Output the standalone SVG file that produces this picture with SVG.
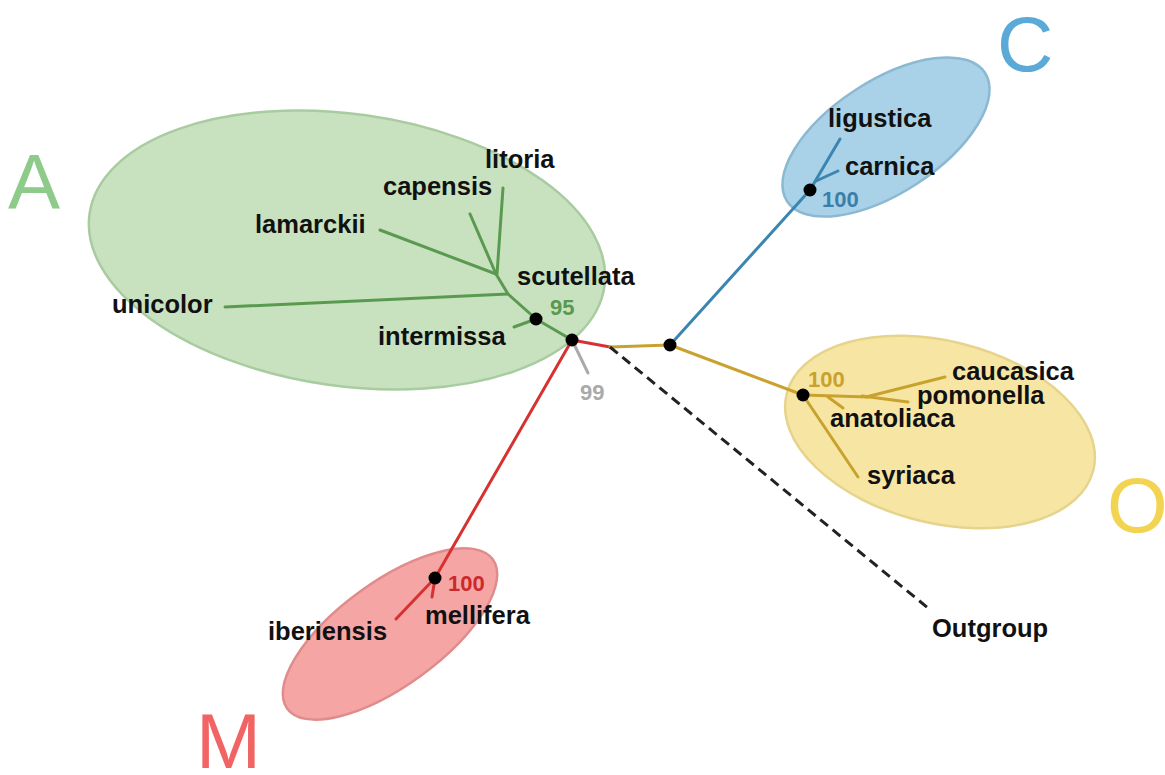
<svg xmlns="http://www.w3.org/2000/svg" width="1165" height="775" viewBox="0 0 1165 775">
<style>
.lbl{font-family:"Liberation Sans",Arial,sans-serif;font-weight:bold;font-size:25.5px;fill:#111}
.big{font-family:"Liberation Sans",Arial,sans-serif;font-size:78px}
.bs{font-family:"Liberation Sans",Arial,sans-serif;font-weight:bold;font-size:22px}
.br{fill:none;stroke-width:3;stroke-linecap:round;stroke-linejoin:round}
.dot{fill:#000}
</style>
<rect width="1165" height="775" fill="#fff"/>
<g id="clades">
<ellipse id="clade-A" cx="347" cy="250" rx="260" ry="136" transform="rotate(8 347 250)" fill="#c8e2c0" stroke="#a8cca0" stroke-width="2.5"/>
<ellipse id="clade-C" cx="886" cy="137" rx="118" ry="56" transform="rotate(-33 886 137)" fill="#a9d1e8" stroke="#8cb9d2" stroke-width="2.5"/>
<ellipse id="clade-O" cx="940" cy="432" rx="158" ry="91" transform="rotate(14 940 432)" fill="#f7e6a3" stroke="#e6d38c" stroke-width="2.5"/>
<ellipse id="clade-M" cx="390" cy="634" rx="127" ry="52" transform="rotate(-36 390 634)" fill="#f6a5a5" stroke="#e08c8c" stroke-width="2.5"/>
</g>
<g id="connectors">
<polyline class="br" stroke="#5a9a50" points="572,340 536,319 508,294 496,274"/>
<line class="br" stroke="#5a9a50" x1="508" y1="294" x2="225" y2="307"/>
<line class="br" stroke="#5a9a50" x1="496" y1="274" x2="380" y2="230"/>
<line class="br" stroke="#5a9a50" x1="496" y1="274" x2="470" y2="214"/>
<line class="br" stroke="#5a9a50" x1="497" y1="274" x2="503" y2="188"/>
<line class="br" stroke="#5a9a50" x1="536" y1="319" x2="514" y2="327"/>
<line class="br" stroke="#aaaaaa" x1="572" y1="340" x2="588" y2="373"/>
<polyline class="br" stroke="#d63232" points="610,347 572,340 435,578 396,619"/>
<line class="br" stroke="#d63232" x1="435" y1="578" x2="432" y2="597"/>
<polyline class="br" stroke="#c9a22e" points="610,347 670,345 803,395 868,397"/>
<line class="br" stroke="#c9a22e" x1="866" y1="397" x2="945" y2="377"/>
<line class="br" stroke="#c9a22e" x1="862" y1="396" x2="908" y2="402"/>
<line class="br" stroke="#c9a22e" x1="828" y1="397" x2="843" y2="408"/>
<line class="br" stroke="#c9a22e" x1="803" y1="395" x2="858" y2="477"/>
<polyline class="br" stroke="#3a86b0" points="670,345 810,190 840,139"/>
<line class="br" stroke="#3a86b0" x1="816" y1="181" x2="838" y2="171"/>
<line stroke="#222" stroke-width="3" stroke-dasharray="10,6" x1="610" y1="347" x2="928" y2="608"/>
</g>
<g id="nodes">
<circle class="dot" cx="572" cy="340" r="6.5"/>
<circle class="dot" cx="536" cy="319" r="6.5"/>
<circle class="dot" cx="670" cy="345" r="6.5"/>
<circle class="dot" cx="810" cy="190" r="6.5"/>
<circle class="dot" cx="803" cy="395" r="6.5"/>
<circle class="dot" cx="435" cy="578" r="6.5"/>
</g>
<g id="labels">
<text class="lbl" x="485" y="168">litoria</text>
<text class="lbl" x="383" y="195">capensis</text>
<text class="lbl" x="255" y="233">lamarckii</text>
<text class="lbl" x="112" y="313">unicolor</text>
<text class="lbl" x="378" y="345">intermissa</text>
<text class="lbl" x="517" y="285">scutellata</text>
<text class="bs" x="550" y="315" fill="#5a9a50">95</text>
<text class="bs" x="580" y="400" fill="#aaaaaa">99</text>
<text class="lbl" x="828" y="127">ligustica</text>
<text class="lbl" x="845" y="175">carnica</text>
<text class="bs" x="822" y="207" fill="#3a7fa8">100</text>
<text class="lbl" x="952" y="380">caucasica</text>
<text class="lbl" x="917" y="404">pomonella</text>
<text class="lbl" x="830" y="427">anatoliaca</text>
<text class="lbl" x="867" y="484">syriaca</text>
<text class="bs" x="808" y="387" fill="#c9a22e">100</text>
<text class="lbl" x="268" y="640">iberiensis</text>
<text class="lbl" x="425" y="624">mellifera</text>
<text class="bs" x="448" y="591" fill="#cc2a2a">100</text>
<text class="lbl" x="932" y="637">Outgroup</text>
<text class="big" x="8" y="209" fill="#8ecb8a">A</text>
<text class="big" x="997" y="71" fill="#5aa9d6">C</text>
<text class="big" x="1107" y="532" fill="#f3d452">O</text>
<text class="big" x="196" y="768" fill="#f26464">M</text>
</g>
</svg>
